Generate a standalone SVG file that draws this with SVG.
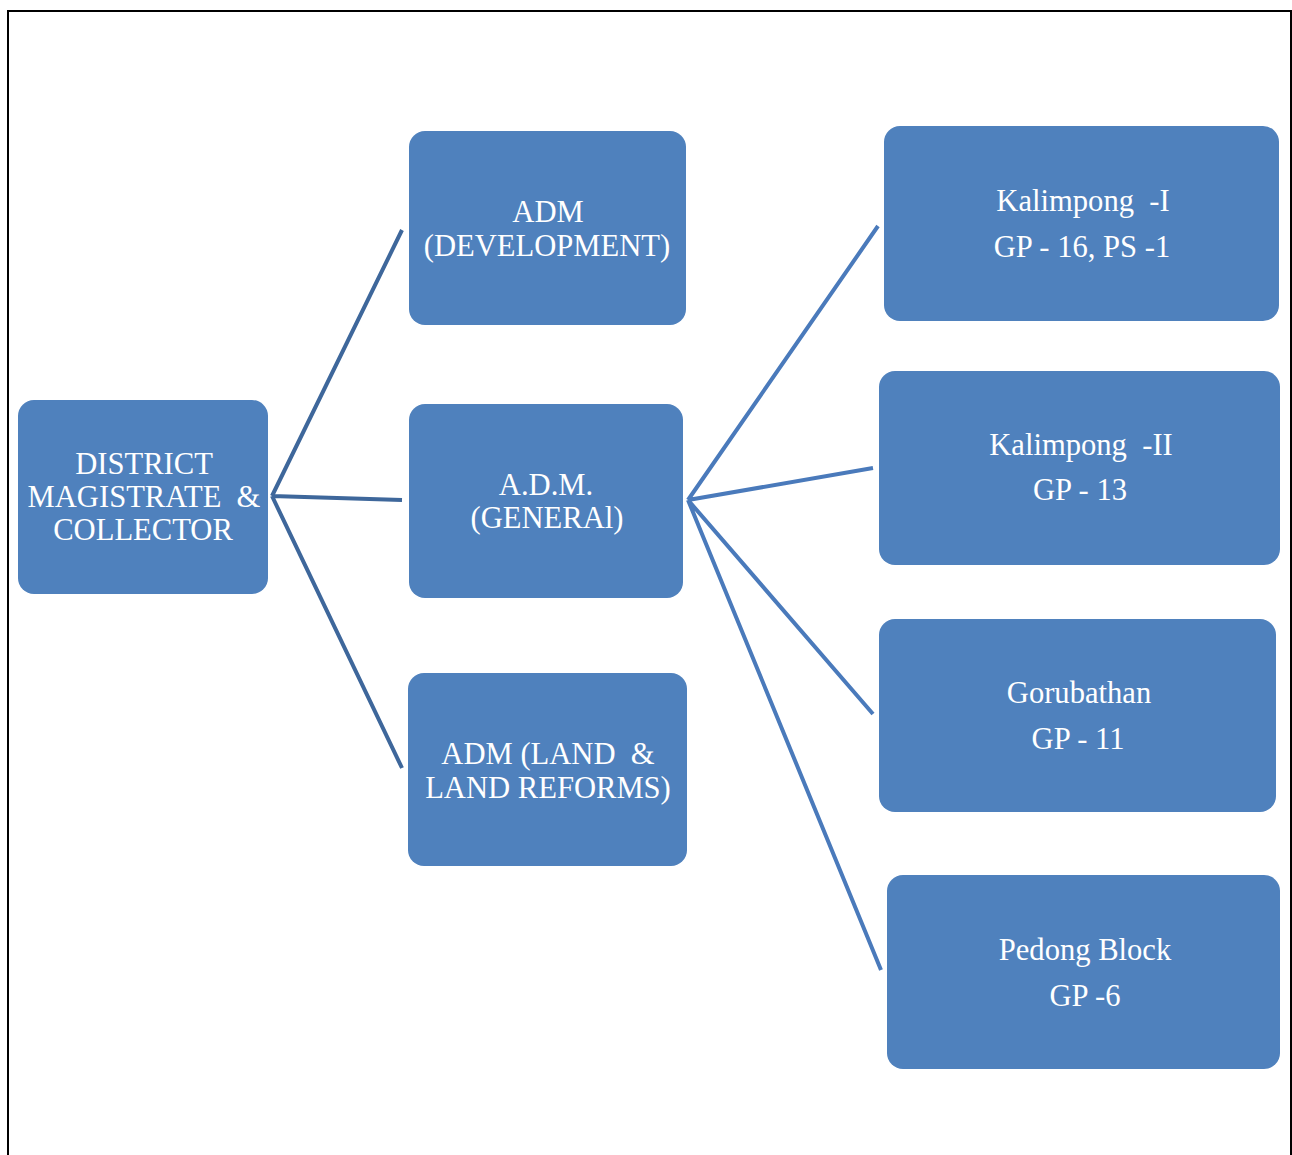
<svg xmlns="http://www.w3.org/2000/svg" width="1292" height="1155" viewBox="0 0 1292 1155">
<style>
.box{fill:#4f81bd;}
.t{font-family:"Liberation Serif","Times New Roman",serif;font-size:30.6px;fill:#ffffff;text-anchor:middle;white-space:pre;}
.c1{stroke:#3e679b;stroke-width:4;fill:none;}
.c2{stroke:#4a7abb;stroke-width:4;fill:none;}
</style>
<rect width="1292" height="1155" fill="#ffffff"/>
<path d="M8 1160 V11 H1291 V1160" fill="none" stroke="#000" stroke-width="2"/>
<g id="connectors">
<path class="c1" d="M272 496 L402 230 M272 496 L402 500 M272 496 L402 768"/>
<path class="c2" d="M688 500 L878 226 M688 500 L873 468 M688 500 L873 714 M688 500 L881 970"/>
</g>
<g id="dm"><rect class="box" x="18" y="400" width="250" height="194" rx="16"/>
<text class="t" x="144" y="474">DISTRICT</text><text class="t" x="144" y="507">MAGISTRATE  &amp;</text><text class="t" x="143" y="540">COLLECTOR</text></g>
<g id="adm-dev"><rect class="box" x="409" y="131" width="277" height="194" rx="16"/>
<text class="t" x="548" y="222">ADM</text><text class="t" x="547" y="256">(DEVELOPMENT)</text></g>
<g id="adm-gen"><rect class="box" x="409" y="404" width="274" height="194" rx="16"/>
<text class="t" x="546" y="495">A.D.M.</text><text class="t" x="547" y="528">(GENERAl)</text></g>
<g id="adm-land"><rect class="box" x="408" y="673" width="279" height="193" rx="16"/>
<text class="t" x="548" y="764">ADM (LAND  &amp;</text><text class="t" x="548" y="798">LAND REFORMS)</text></g>
<g id="kal1"><rect class="box" x="884" y="126" width="395" height="195" rx="16"/>
<text class="t" x="1083" y="211">Kalimpong  -I</text><text class="t" x="1082" y="257">GP - 16, PS -1</text></g>
<g id="kal2"><rect class="box" x="879" y="371" width="401" height="194" rx="16"/>
<text class="t" x="1081" y="455">Kalimpong  -II</text><text class="t" x="1080" y="500">GP - 13</text></g>
<g id="goru"><rect class="box" x="879" y="619" width="397" height="193" rx="16"/>
<text class="t" x="1079" y="703">Gorubathan</text><text class="t" x="1078" y="749">GP - 11</text></g>
<g id="pedong"><rect class="box" x="887" y="875" width="393" height="194" rx="16"/>
<text class="t" x="1085" y="960">Pedong Block</text><text class="t" x="1085" y="1006">GP -6</text></g>
</svg>
